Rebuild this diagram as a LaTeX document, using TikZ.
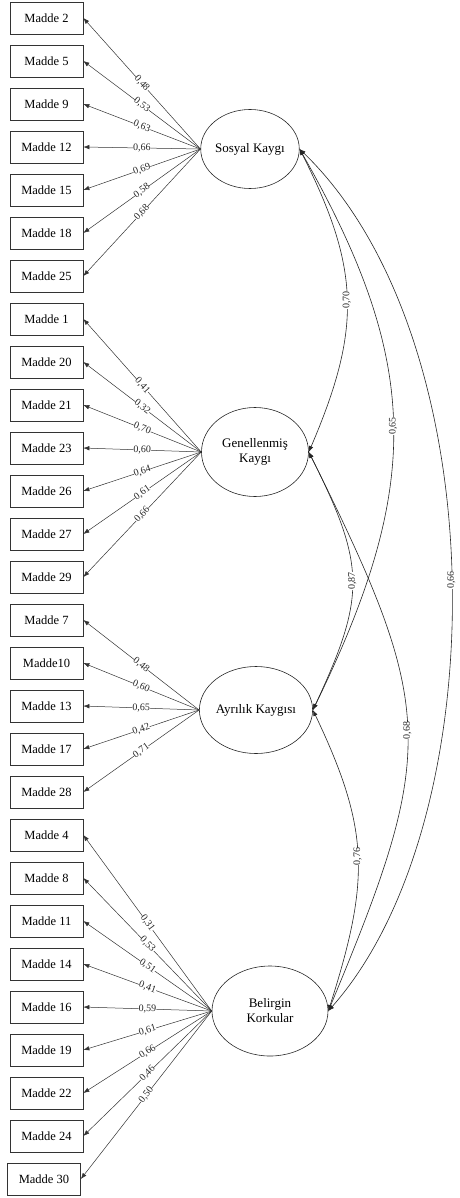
\documentclass[tikz,border=0pt]{standalone}
\usepackage{fontspec}
\setmainfont{Liberation Serif}
\usetikzlibrary{arrows.meta,shapes.geometric}
\begin{document}
\begin{tikzpicture}[x=1pt,y=1pt,
  item/.style={draw=black!80, line width=0.7pt, minimum width=73pt, minimum height=32pt, inner sep=0pt, font=\fontsize{12.5}{14}\selectfont},
  latent/.style={draw=black!85, ellipse, line width=0.6pt, inner sep=0pt, align=center, font=\fontsize{13}{15}\selectfont},
  load/.style={-{Latex[length=6pt,width=4.5pt]}, line width=0.5pt, draw=black!80},
  corr/.style={{Latex[length=6pt,width=4.5pt]}-{Latex[length=6pt,width=4.5pt]}, line width=0.6pt, draw=black!85},
  lab/.style={fill=white, inner sep=0.1pt, font=\fontsize{10}{11}\selectfont, text=black!85},
]
\useasboundingbox (0,0) rectangle (459,-1198);

% observed items
\foreach \nm/\t [count=\i from 0] in {m2/Madde 2, m5/Madde 5, m9/Madde 9, m12/Madde 12, m15/Madde 15, m18/Madde 18, m25/Madde 25,
  m1/Madde 1, m20/Madde 20, m21/Madde 21, m23/Madde 23, m26/Madde 26, m27/Madde 27, m29/Madde 29,
  m7/Madde 7, m10/Madde10, m13/Madde 13, m17/Madde 17, m28/Madde 28,
  m4/Madde 4, m8/Madde 8, m11/Madde 11, m14/Madde 14, m16/Madde 16, m19/Madde 19, m22/Madde 22, m24/Madde 24}
  \node[item] (\nm) at (46.5,{-18-43*\i}) {\t};
\node[item] (m30) at (44,-1179) {Madde 30};

% latent variables
\node[latent, minimum width=96pt, minimum height=79pt] (S) at (250,-149) {Sosyal Kayg\i};
\node[latent, minimum width=107pt, minimum height=89pt] (G) at (255,-452) {Genellenmi\c{s}\\Kayg\i};
\node[latent, minimum width=108pt, minimum height=87pt] (A) at (256,-710) {Ayr\i l\i k Kayg\i s\i};
\node[latent, minimum width=116pt, minimum height=90pt] (B) at (270,-1011) {Belirgin\\Korkular};

% loadings
\foreach \m/\v in {m2/{0,48}, m5/{0,53}, m9/{0,63}, m12/{0,66}, m15/{0,69}, m18/{0,58}, m25/{0,68}}
  \draw[load] (S.west) -- node[lab, sloped, pos=0.5] {\v} (\m.east);
\foreach \m/\v in {m1/{0,41}, m20/{0,32}, m21/{0,70}, m23/{0,60}, m26/{0,64}, m27/{0,61}, m29/{0,66}}
  \draw[load] (G.west) -- node[lab, sloped, pos=0.5] {\v} (\m.east);
\foreach \m/\v in {m7/{0,48}, m10/{0,60}, m13/{0,65}, m17/{0,42}, m28/{0,71}}
  \draw[load] (A.west) -- node[lab, sloped, pos=0.5] {\v} (\m.east);
\foreach \m/\v in {m4/{0,31}, m8/{0,53}, m11/{0,51}, m14/{0,41}, m16/{0,59}, m19/{0,61}, m22/{0,66}, m24/{0,46}, m30/{0,50}}
  \draw[load] (B.west) -- node[lab, sloped, pos=0.5] {\v} (\m.east);

% correlations
\draw[corr] (S.east) .. controls (361,-270) and (361,-330) .. node[lab, rotate=90, pos=0.5] {0,70} (G.east);
\draw[corr] (S.east) .. controls (422,-364) and (422,-486) .. node[lab, rotate=90, pos=0.5] {0,65} (A.east);
\draw[corr] (S.east) .. controls (497,-340) and (497,-820) .. node[lab, rotate=90, pos=0.5] {0,66} (B.east);
\draw[corr] (G.east) .. controls (366,-566) and (366,-596) .. node[lab, rotate=90, pos=0.5] {0,87} (A.east);
\draw[corr] (G.east) .. controls (437,-710) and (437,-750) .. node[lab, rotate=90, pos=0.5] {0,68} (B.east);
\draw[corr] (A.east) .. controls (370,-830) and (370,-880) .. node[lab, rotate=90, pos=0.5] {0,76} (B.east);
\end{tikzpicture}
\end{document}
